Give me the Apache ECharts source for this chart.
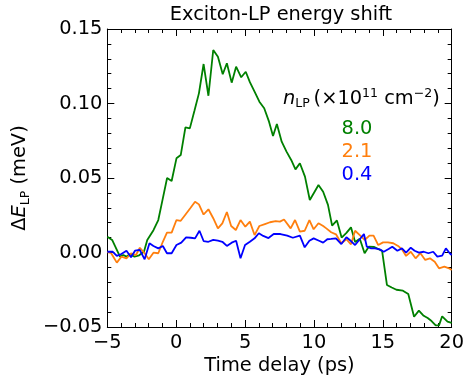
<!DOCTYPE html>
<html>
<head>
<meta charset="utf-8">
<script src="https://cdn.jsdelivr.net/npm/echarts@6/dist/echarts.min.js"></script>
<style>
  html, body { margin: 0; padding: 0; background: #fff; }
  #chart { width: 467px; height: 381px; }
</style>
</head>
<body>
<div id="chart"></div>
<script>
// Time delay (ps) and LP energy shift (meV) for three polariton densities
const tHigh = [-5.00, -4.65, -4.42, -4.08, -3.84, -3.61, -3.38, -3.03, -2.69, -2.34, -2.10, -1.65, -1.30, -1.00, -0.66, -0.33,
  0.02, 0.33, 0.67, 0.99, 1.32, 1.65, 1.99, 2.34, 2.69, 3.03, 3.38, 3.68, 4.03, 4.35, 4.72, 5.05, 5.35, 5.69, 6.04, 6.39,
  6.74, 7.03, 7.31, 7.66, 8.01, 8.35, 8.66, 8.98, 9.35, 9.70, 10.05, 10.33, 10.67, 11.02, 11.32, 11.67, 12.01, 12.36, 12.69,
  12.99, 13.33, 13.68, 13.98, 14.38, 14.95, 15.30, 15.65, 15.99, 16.46, 16.85, 17.27, 17.62, 17.97, 18.26, 18.54, 18.84,
  19.08, 19.31, 19.70, 20.00];
const eHigh = [0.0106, 0.0084, 0.0039, -0.0028, -0.0017, -0.0028, -0.0012, -0.0028, -0.0019, 0.0005, 0.0084, 0.0150, 0.0218,
  0.0350, 0.0500, 0.0480, 0.0632, 0.0654, 0.0840, 0.0833, 0.0950, 0.1068, 0.1265, 0.1052, 0.1359, 0.1314, 0.1196, 0.1270,
  0.1140, 0.1247, 0.1176, 0.1213, 0.1143, 0.1080, 0.1012, 0.0968, 0.0878, 0.0782, 0.0862, 0.0744, 0.0677, 0.0621, 0.0558,
  0.0599, 0.0509, 0.0352, 0.0408, 0.0453, 0.0408, 0.0320, 0.0180, 0.0215, 0.0100, 0.0132, 0.0169, 0.0070, 0.0092, -0.0005,
  0.0039, 0.0037, 0.0011, -0.0218, -0.0235, -0.0250, -0.0256, -0.0279, -0.0431, -0.0390, -0.0425, -0.0440, -0.0460,
  -0.0489, -0.0489, -0.0428, -0.0464, -0.0473];

const tMid = [-5.00, -4.72, -4.31, -3.98, -3.61, -3.28, -2.92, -2.64, -2.29, -1.99, -1.65, -1.30, -0.97, -0.67, -0.33, 0.02,
  0.33, 0.65, 1.02, 1.37, 1.65, 1.99, 2.34, 2.69, 3.03, 3.35, 3.68, 3.99, 4.33, 4.67, 5.02, 5.35, 5.69, 6.04, 6.44, 6.81,
  7.22, 7.53, 7.83, 8.31, 8.63, 8.98, 9.33, 9.67, 9.98, 10.33, 10.67, 10.90, 11.25, 11.60, 11.99, 12.36, 12.69, 12.99, 13.33,
  13.68, 14.03, 14.33, 14.67, 15.02, 15.37, 15.76, 16.11, 16.39, 16.69, 17.03, 17.38, 17.73, 18.08, 18.42, 18.77, 19.08,
  19.47, 19.81, 20.00];
const eMid = [0.0002, -0.0005, -0.0068, -0.0028, -0.0039, -0.0005, -0.0017, 0.0032, -0.0005, -0.0046, -0.0001, -0.0005,
  0.0072, 0.0133, 0.0133, 0.0218, 0.0213, 0.0252, 0.0297, 0.0341, 0.0323, 0.0255, 0.0290, 0.0230, 0.0162, 0.0196, 0.0272,
  0.0178, 0.0151, 0.0218, 0.0173, 0.0207, 0.0117, 0.0178, 0.0191, 0.0203, 0.0211, 0.0207, 0.0222, 0.0162, 0.0218, 0.0140,
  0.0146, 0.0218, 0.0156, 0.0196, 0.0178, 0.0162, 0.0136, 0.0122, 0.0062, 0.0089, 0.0055, 0.0146, 0.0117, 0.0084, 0.0113,
  0.0113, 0.0050, 0.0068, 0.0068, 0.0062, 0.0044, 0.0021, -0.0023, 0.0005, -0.0039, -0.0005, -0.0050, -0.0039, -0.0062,
  -0.0106, -0.0095, -0.0106, -0.0117];

const tLow = [-5.00, -4.60, -4.31, -3.98, -3.61, -3.28, -2.99, -2.64, -2.29, -1.94, -1.65, -1.30, -0.97, -0.67, -0.33, 0.02,
  0.37, 0.72, 1.06, 1.37, 1.69, 1.99, 2.34, 2.69, 3.03, 3.35, 3.68, 4.03, 4.35, 4.67, 5.00, 5.35, 5.69, 6.00, 6.32, 6.70,
  7.08, 7.57, 8.06, 8.47, 8.98, 9.33, 9.67, 9.98, 10.37, 10.67, 10.97, 11.25, 11.60, 11.99, 12.36, 12.69, 12.99, 13.33,
  13.63, 13.84, 14.15, 14.44, 14.77, 15.07, 15.42, 15.69, 16.06, 16.39, 16.69, 17.03, 17.31, 17.62, 17.97, 18.31, 18.66,
  18.96, 19.31, 19.58, 19.86, 20.00];
const eLow = [0.0005, 0.0005, -0.0023, -0.0010, 0.0012, -0.0032, 0.0012, 0.0017, -0.0046, 0.0062, 0.0044, 0.0028, 0.0044,
  -0.0005, -0.0005, 0.0050, 0.0066, 0.0102, 0.0099, 0.0095, 0.0146, 0.0077, 0.0072, 0.0085, 0.0079, 0.0072, 0.0044, 0.0066,
  0.0079, -0.0039, 0.0050, 0.0072, 0.0095, 0.0129, 0.0111, 0.0097, 0.0124, 0.0124, 0.0113, 0.0099, 0.0113, 0.0035, 0.0079,
  0.0095, 0.0079, 0.0066, 0.0089, 0.0091, 0.0095, 0.0057, 0.0102, 0.0077, 0.0050, 0.0089, 0.0124, 0.0039, 0.0028, 0.0028,
  0.0021, 0.0005, 0.0023, 0.0039, 0.0012, 0.0028, -0.0001, 0.0032, 0.0012, -0.0001, 0.0005, -0.0005, 0.0005, -0.0028,
  -0.0021, 0.0028, -0.0005, -0.0017];

const densityLabels = ['8.0', '2.1', '0.4'];
const colors = ['#008000', '#ff7f0e', '#0000ff'];

const FONT = 'DejaVu Sans';
const FS = 19.4;      // main text size
const FS_SUB = 12.5;  // sub/superscript size
const minus = s => String(s).replace('-', '\u2212');
const pairs = (t, e) => t.map((x, i) => [x, e[i]]);

const chart = echarts.init(document.getElementById('chart'), null, { renderer: 'canvas' });

const baseAxis = {
  axisLine: { show: true, onZero: false, lineStyle: { color: '#000', width: 1 } },
  axisTick: { show: true, inside: true, length: 7, lineStyle: { color: '#000', width: 1 } },
  minorTick: { show: true, splitNumber: 5, length: 4, lineStyle: { color: '#000', width: 1 } },
  splitLine: { show: false },
  axisLabel: { color: '#000', fontFamily: FONT, fontSize: FS }
};

const tok = (extra) => Object.assign({ fontFamily: FONT, fontWeight: 'normal', color: '#000' }, extra);

const option = {
  backgroundColor: '#fff',
  animation: false,
  title: [
    { text: 'Exciton-LP energy shift', left: 276, top: 0, textAlign: 'center',
      textStyle: { fontFamily: FONT, fontSize: FS, fontWeight: 'normal', color: '#000' } },
    { text: '{i|n}{s|LP}{g| }{n|(×10}{p|11}{n| cm}{p|−2}{n|)}', left: 278, top: 83,
      textStyle: { rich: {
        i: tok({ fontSize: FS, fontStyle: 'italic', lineHeight: 21 }),
        n: tok({ fontSize: FS, lineHeight: 21 }),
        g: tok({ fontSize: 12, lineHeight: 21 }),
        s: tok({ fontSize: FS_SUB, lineHeight: 12, padding: [11, 0, 0, 0] }),
        p: tok({ fontSize: FS_SUB, lineHeight: 12, padding: [0, 0, 10, 0] })
      } } },
    { text: densityLabels[0], left: 352, top: 114, textAlign: 'center',
      textStyle: { fontFamily: FONT, fontSize: FS, fontWeight: 'normal', color: colors[0] } },
    { text: densityLabels[1], left: 352, top: 137, textAlign: 'center',
      textStyle: { fontFamily: FONT, fontSize: FS, fontWeight: 'normal', color: colors[1] } },
    { text: densityLabels[2], left: 352, top: 160, textAlign: 'center',
      textStyle: { fontFamily: FONT, fontSize: FS, fontWeight: 'normal', color: colors[2] } }
  ],
  grid: { left: 97, right: 11, top: 29, bottom: 54, containLabel: false },
  xAxis: [
    Object.assign({}, baseAxis, {
      type: 'value', min: -5, max: 20, interval: 5, position: 'bottom',
      name: 'Time delay (ps)', nameLocation: 'middle', nameGap: 27,
      nameTextStyle: { fontFamily: FONT, fontSize: FS, color: '#000' },
      axisLabel: Object.assign({}, baseAxis.axisLabel, { margin: 6, formatter: v => minus(v) })
    }),
    Object.assign({}, baseAxis, {
      type: 'value', min: -5, max: 20, interval: 5, position: 'top',
      axisLabel: { show: false }
    })
  ],
  yAxis: [
    Object.assign({}, baseAxis, {
      type: 'value', min: -0.05, max: 0.15, interval: 0.05, position: 'left',
      name: '{n|Δ}{i|E}{s|LP}{n| (meV)}', nameLocation: 'middle', nameGap: 70, nameRotate: 90,
      nameTextStyle: { rich: {
        i: tok({ fontSize: FS, fontStyle: 'italic', lineHeight: 21 }),
        n: tok({ fontSize: FS, lineHeight: 21 }),
        s: tok({ fontSize: FS_SUB, lineHeight: 12, padding: [11, 0, 0, 0] })
      } },
      axisLabel: Object.assign({}, baseAxis.axisLabel, { margin: 5, formatter: v => minus(v.toFixed(2)) })
    }),
    Object.assign({}, baseAxis, {
      type: 'value', min: -0.05, max: 0.15, interval: 0.05, position: 'right',
      axisLabel: { show: false }
    })
  ],
  series: [
    { name: densityLabels[0], type: 'line', data: pairs(tHigh, eHigh) },
    { name: densityLabels[1], type: 'line', data: pairs(tMid, eMid) },
    { name: densityLabels[2], type: 'line', data: pairs(tLow, eLow) }
  ].map((s, i) => Object.assign(s, {
    xAxisIndex: 0, yAxisIndex: 0, showSymbol: false, symbol: 'none',
    lineStyle: { color: colors[i], width: 1.8 }, itemStyle: { color: colors[i] }, z: 2 + i
  }))
};

chart.setOption(option);
</script>
</body>
</html>
